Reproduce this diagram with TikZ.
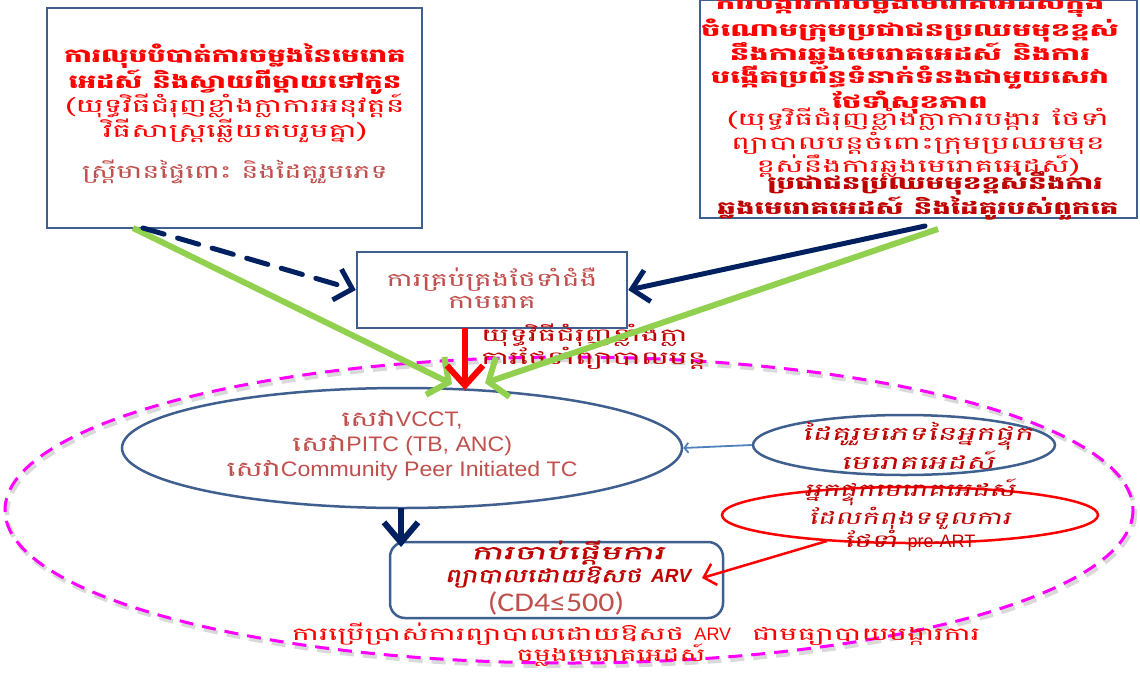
\documentclass[tikz,border=0pt]{standalone}
\usepackage{fontspec}
\usetikzlibrary{arrows.meta,shapes.geometric}
\setmainfont{Liberation Sans}
\newfontfamily\km[Script=Khmer]{Battambang}
\newfontfamily\kmi[Script=Khmer,FakeSlant=0.2]{Battambang}
\newfontfamily\kmbi[Script=Khmer,FakeSlant=0.2,FakeBold=1.2]{Battambang}
\newfontfamily\carl{Carlito}
\newcommand\kst[1]{\addfontfeatures{FakeStretch=#1}}
\definecolor{boxblue}{HTML}{3F5F8F}
\definecolor{kred}{HTML}{FF0000}
\definecolor{dred}{HTML}{C00000}
\definecolor{brn}{HTML}{C0504D}
\definecolor{navy}{HTML}{002060}
\definecolor{grn}{HTML}{92D050}
\definecolor{mag}{HTML}{FF00FF}
\definecolor{lblue}{HTML}{4F81BD}
\tikzset{
  box/.style={draw=boxblue, line width=2.5pt, fill=white, inner sep=0pt},
  txt/.style={align=center, inner sep=0pt},
  navyarrow/.style={draw=navy, line width=5pt, line cap=round, -{Straight Barb[length=16pt,width=32pt]}},
  greenarrow/.style={draw=grn, line width=6pt, -{Straight Barb[length=15pt,width=42pt]}},
}
\begin{document}
\begin{tikzpicture}[x=1pt,y=-1pt]
\useasboundingbox (0,0) rectangle (1140,675);
% big dashed ellipse with shadow
\draw[gray!30, line width=4.5pt, dash pattern=on 14pt off 9pt] (571,513) ellipse [x radius=564, y radius=153];
\draw[mag, line width=3pt, dash pattern=on 14pt off 9pt] (569,510) ellipse [x radius=564, y radius=153];

% boxes
\node[box, minimum width=375pt, minimum height=220pt] (tl) at (234.5,118) {};
\node[box, minimum width=437pt, minimum height=218pt] (tr) at (918.5,109) {};
\node[box, minimum width=270pt, minimum height=76pt] (mid) at (492,290) {};
\node[draw=boxblue, line width=2.5pt, fill=white, ellipse, inner sep=0pt, minimum width=560pt, minimum height=120pt] (svc) at (402,448) {};
\node[draw=boxblue, line width=2.5pt, fill=white, ellipse, inner sep=0pt, minimum width=302pt, minimum height=60pt] (ptn) at (904,445) {};
\node[draw=kred, line width=2.5pt, ellipse, inner sep=0pt, minimum width=376pt, minimum height=56pt] (pre) at (910,515) {};
\node[box, rounded corners=15pt, minimum width=333pt, minimum height=76pt] (arv) at (556.5,580) {};

% texts
\node[txt, font=\fontsize{19}{26}\selectfont\km\bfseries\kst{1.53}\color{kred}] (tlA) at (235,69)
  {ការលុបបំបាត់ការចម្លងនៃមេរោគ\\អេដស៍ និងស្វាយពីម្ដាយទៅកូន};
\node[txt, font=\fontsize{19}{23}\selectfont\km\kst{1.66}\color{kred}] (tlB) at (235,118)
  {(យុទ្ធវិធីជំរុញខ្លាំងក្លាការអនុវត្តន៍\\វិធីសាស្ត្រឆ្លើយតបរួមគ្នា)};
\node[txt, font=\fontsize{19}{23}\selectfont\km\kst{1.52}\color{brn}] (tlC) at (235,172)
  {ស្ត្រីមានផ្ទៃពោះ និងដៃគូរួមភេទ};

\node[txt, font=\fontsize{18}{21}\selectfont\km\bfseries\kst{1.7}\color{kred}] (trA) at (910,53)
  {ការបង្ការការចម្លងមេរោគអេដស៍ក្នុង\\ចំណោមក្រុមប្រជាជនប្រឈមមុខខ្ពស់\\នឹងការឆ្លងមេរោគអេដស៍ និងការ\\បង្កើតប្រព័ន្ធទំនាក់ទំនងជាមួយសេវា\\ថែទាំសុខភាព};
\node[txt, font=\fontsize{18}{20.5}\selectfont\km\kst{1.77}\color{kred}] (trB) at (918,143)
  {(យុទ្ធវិធីជំរុញខ្លាំងក្លាការបង្ការ ថែទាំ\\ព្យាបាលបន្តចំពោះក្រុមប្រឈមមុខ\\ខ្ពស់នឹងការឆ្លងមេរោគអេដស៍)};
\node[txt, font=\fontsize{18}{21.5}\selectfont\km\bfseries\kst{1.63}\color{dred}] (trC) at (918,196)
  {\hspace*{34pt}ប្រជាជនប្រឈមមុខខ្ពស់នឹងការ\\ឆ្លងមេរោគអេដស៍ និងដៃគូរបស់ពួកគេ};

\node[txt, font=\fontsize{19}{22}\selectfont\km\kst{1.55}\color{brn}] (midT) at (492,288)
  {ការគ្រប់គ្រងថែទាំជំងឺ\\កាមរោគ};
\node[txt, anchor=west, align=left, font=\fontsize{18}{20}\selectfont\km\kst{1.75}\color{dred}] (midL) at (481,347)
  {យុទ្ធវិធីជំរុញខ្លាំងក្លា\\ការថែទាំព្យាបាលបន្ត};

\node[txt, font=\fontsize{21}{25}\selectfont\kst{1.1}\color{brn}] (svcT) at (402,446)
  {{\km\kst{1.45}សេវា}VCCT,\\{\km\kst{1.45}សេវា}PITC (TB, ANC)\\{\km\kst{1.45}សេវា}Community Peer Initiated TC};
\node[txt, font=\fontsize{19}{22}\selectfont\kmi\kst{1.7}\color{dred}] (ptnT) at (918,446)
  {ដៃគូរួមភេទនៃអ្នកផ្ទុក\\មេរោគអេដស៍};
\node[txt, font=\fontsize{18}{21}\selectfont\kmi\kst{1.64}\color{dred}] (preT) at (910,515)
  {អ្នកផ្ទុកមេរោគអេដស៍\\ដែលកំពុងទទួលការ\\ថែទាំ {\normalfont pre-ART}};
\node[txt, font=\fontsize{19}{23}\selectfont\kmbi\color{dred}] (arvA) at (568,564)
  {{\kst{1.9}ការចាប់ផ្ដើមការ}\\{\kst{1.45}ព្យាបាលដោយឱសថ {\normalfont\bfseries\itshape ARV}}};
\node[txt, font=\fontsize{27}{28}\selectfont\carl\kst{1.18}\color{brn}] (arvB) at (556,603)
  {(CD4≤500)};

\node[txt, font=\fontsize{18}{21}\selectfont\km\kst{1.7}\color{kred}] (botA) at (636,634)
  {ការប្រើប្រាស់ការព្យាបាលដោយឱសថ {\normalfont ARV}\ \ ជាមធ្យាបាយបង្ការការ};
\node[txt, font=\fontsize{18}{21}\selectfont\km\kst{1.6}\color{kred}] (botB) at (611,655)
  {ចម្លងមេរោគអេដស៍};

% connector end points
\coordinate (tlg) at (133,228);
\coordinate (tld) at (143,228);
\coordinate (trd) at (925,226);
\coordinate (trg) at (938,229);
\coordinate (gA) at (452,384);
\coordinate (gB) at (485,383);
\coordinate (redS) at (465,328);
\coordinate (redE) at (465,390);
\coordinate (dnS) at (401,508);
\coordinate (dnE) at (401,547);
\coordinate (preS) at (827,541);
\coordinate (arvE) at (702,578);

% connectors
\draw[greenarrow] (tlg) -- (gA);
\draw[greenarrow] (trg) -- (gB);
\draw[navyarrow, dash pattern=on 22pt off 14pt] (tld) -- (mid.west);
\draw[navyarrow] (trd) -- (mid.east);
\draw[kred, line width=6pt, -{Straight Barb[length=20pt,width=36pt]}] (redS) -- (redE);
\draw[navy, line width=6pt, -{Straight Barb[length=20pt,width=34pt]}] (dnS) -- (dnE);
\draw[lblue, line width=1.8pt, -{Straight Barb[length=4pt,width=10pt]}] (ptn.west) -- (svc.east);
\draw[kred, line width=2.5pt, -{Straight Barb[length=11pt,width=22pt]}] (preS) -- (arvE);
\end{tikzpicture}
\end{document}
